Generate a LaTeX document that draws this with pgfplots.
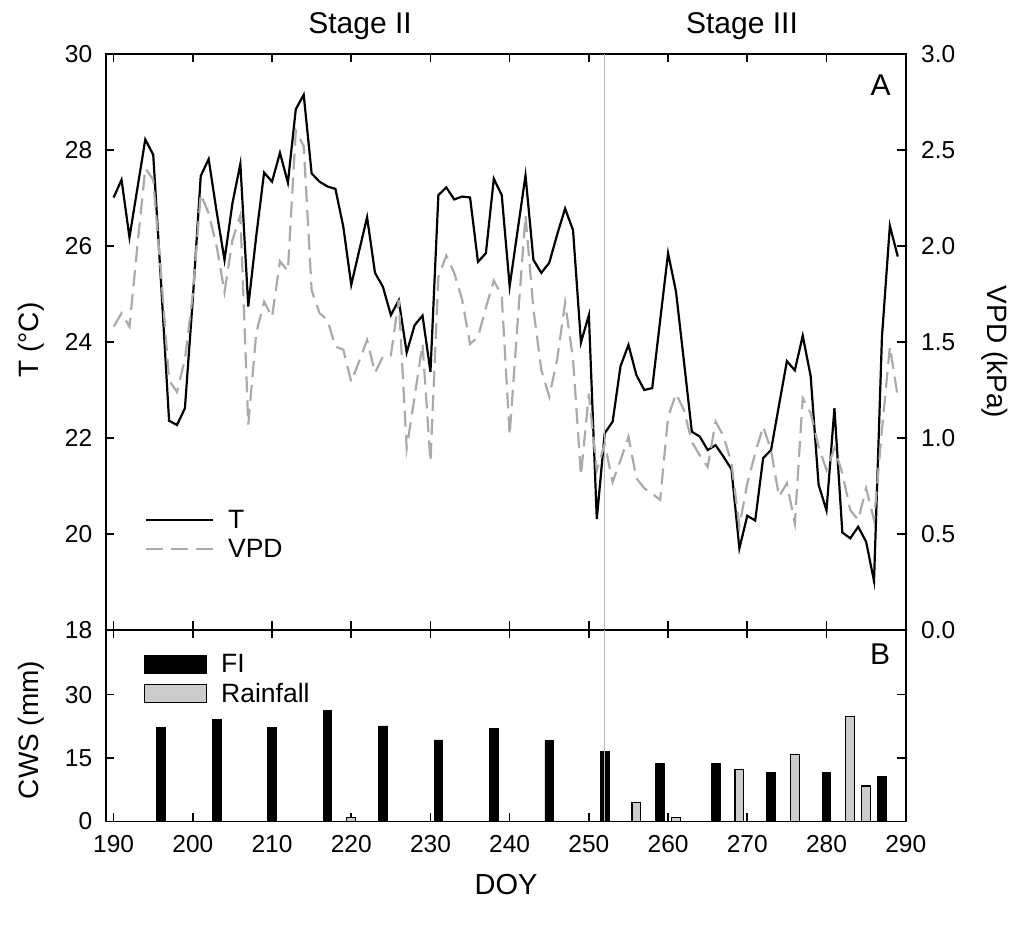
\documentclass[border=0pt]{standalone}
\usepackage{fontspec}
\setmainfont{Liberation Sans}
\usepackage{pgfplots}
\pgfplotsset{compat=1.18}
\usepackage{pgfplotstable}

\pgfplotstableread{
doy T
190 27.01
191 27.38
192 26.18
193 27.20
194 28.22
195 27.90
196 25.20
197 22.36
198 22.27
199 22.62
200 24.90
201 27.46
202 27.81
203 26.72
204 25.71
205 26.89
206 27.71
207 24.74
208 26.20
209 27.53
210 27.34
211 27.94
212 27.32
213 28.85
214 29.15
215 27.51
216 27.34
217 27.24
218 27.19
219 26.40
220 25.19
221 25.90
222 26.60
223 25.44
224 25.15
225 24.56
226 24.87
227 23.78
228 24.35
229 24.55
230 23.38
231 27.06
232 27.22
233 26.97
234 27.03
235 27.01
236 25.67
237 25.85
238 27.40
239 27.06
240 25.16
241 26.32
242 27.47
243 25.71
244 25.44
245 25.65
246 26.24
247 26.78
248 26.33
249 23.99
250 24.56
251 20.31
252 22.10
253 22.34
254 23.50
255 23.94
256 23.31
257 23.00
258 23.04
259 24.45
260 25.85
261 25.05
262 23.60
263 22.13
264 22.03
265 21.75
266 21.85
267 21.61
268 21.35
269 19.70
270 20.38
271 20.28
272 21.58
273 21.75
274 22.68
275 23.60
276 23.41
277 24.13
278 23.29
279 21.03
280 20.49
281 22.62
282 20.03
283 19.91
284 20.15
285 19.84
286 19.02
287 24.10
288 26.42
289 25.78
}\Tdata

\pgfplotstableread{
doy vpd
190 1.58
191 1.65
192 1.58
193 2.00
194 2.405
195 2.345
196 1.85
197 1.30
198 1.24
199 1.41
200 1.75
201 2.27
202 2.17
203 2.00
204 1.76
205 2.03
206 2.16
207 1.07
208 1.545
209 1.71
210 1.63
211 1.92
212 1.87
213 2.60
214 2.52
215 1.77
216 1.65
217 1.615
218 1.476
219 1.46
220 1.293
221 1.40
222 1.51
223 1.34
224 1.424
225 1.43
226 1.72
227 0.946
228 1.215
229 1.49
230 0.877
231 1.84
232 1.95
233 1.86
234 1.72
235 1.49
236 1.525
237 1.68
238 1.82
239 1.74
240 1.015
241 1.60
242 2.16
243 1.67
244 1.354
245 1.215
246 1.41
247 1.705
248 1.41
249 0.807
250 1.23
251 0.83
252 0.97
253 0.77
254 0.885
255 1.007
256 0.79
257 0.738
258 0.71
259 0.677
260 1.11
261 1.23
262 1.146
263 0.98
264 0.91
265 0.85
266 1.085
267 1.01
268 0.87
269 0.54
270 0.764
271 0.92
272 1.06
273 0.937
274 0.695
275 0.764
276 0.556
277 1.207
278 1.13
279 0.955
280 0.834
281 0.946
282 0.816
283 0.625
284 0.573
285 0.738
286 0.573
287 1.04
288 1.476
289 1.215
}\VPDdata

\pgfplotstableread{
doy fi
196 22.3
203 24.2
210 22.3
217 26.2
224 22.6
231 19.3
238 22.0
245 19.1
252 16.5
259 13.8
266 13.8
273 11.5
280 11.7
287 10.6
}\FIdata

\pgfplotstableread{
doy rain
220 1.0
256 4.6
261 1.0
269 12.3
276 15.8
283 24.9
285 8.4
}\Raindata

\definecolor{vpdgray}{HTML}{AAAAAA}
\definecolor{raingray}{HTML}{CCCCCC}
\definecolor{linegray}{HTML}{B8B8B8}

\pgfplotsset{
  base/.style={
    scale only axis, width=800pt,
    xmin=189, xmax=290, xtick={190,200,...,290},
    tick align=inside, major tick length=8.5pt,
    axis line style={line width=1.6pt},
    every tick/.style={black, line width=1.6pt},
    tick label style={font=\fontsize{24.5}{28}\selectfont},
    /pgf/number format/assume math mode=true,
    clip=true,
  }
}

\begin{document}
\begin{tikzpicture}
\useasboundingbox (0pt,0pt) rectangle (1015pt,926pt);

% ---------- Panel A: T (left axis) ----------
\begin{axis}[base, at={(105.7pt,296pt)}, anchor=south west, height=576pt,
  ymin=18, ymax=30, ytick={18,20,...,30}, ytick pos=left,
  xticklabels={},
  yticklabel style={xshift=-10pt},
  legend style={at={(rel axis cs:0.045,0.215)}, anchor=north west, draw=none, fill=none,
    font=\fontsize{26.5}{30}\selectfont, row sep=5pt},
  legend cell align=left,
  legend image code/.code={\draw[#1] (0pt,0pt) -- (67pt,0pt);},
]
\addplot[black, line width=2.2pt] table[x=doy, y=T]{\Tdata};
\addlegendentry{\hspace{12pt}T}
\addlegendimage{vpdgray, line width=2.2pt, dash pattern=on 17pt off 8pt}
\addlegendentry{\hspace{12pt}VPD}
\addplot[linegray, line width=1.4pt, forget plot] coordinates {(252,18) (252,30)};
\end{axis}

% ---------- Panel A: VPD (right axis) ----------
\begin{axis}[base, at={(105.7pt,296pt)}, anchor=south west, height=576pt,
  hide x axis, axis y line*=right, tick align=inside,
  ymin=0, ymax=3, ytick={0,0.5,...,3.0},
  yticklabel style={xshift=12pt, /pgf/number format/.cd, fixed, fixed zerofill, precision=1},
]
\addplot[vpdgray, line width=2.2pt, dash pattern=on 16pt off 8pt] table[x=doy, y=vpd]{\VPDdata};
\end{axis}

% ---------- Panel B: CWS ----------
\begin{axis}[base, at={(105.7pt,104.5pt)}, anchor=south west, height=191.5pt,
  ymin=0, ymax=45.3, ytick={0,15,30},
  yticklabel style={xshift=-10pt},
  xticklabel style={yshift=-10pt},
  legend style={at={(rel axis cs:0.044,0.895)}, anchor=north west, draw=none, fill=none,
    font=\fontsize{26.5}{30}\selectfont, row sep=5pt},
  legend cell align=left,
  legend image code/.code={\draw[#1] (0pt,-9pt) rectangle (62pt,9pt);},
]
\addplot[ybar, bar width=1.1, fill=black, draw=black, line width=0.8pt]
  table[x=doy, y=fi]{\FIdata};
\addlegendentry{\hspace{12pt}FI}
\addplot[ybar, bar width=1.1, fill=raingray, draw=black, line width=1.1pt]
  table[x=doy, y=rain]{\Raindata};
\addlegendentry{\hspace{12pt}Rainfall}
\addplot[linegray, line width=1.4pt, forget plot] coordinates {(252,0) (252,45.3)};
\end{axis}

% ---------- Texts ----------
\node[font=\fontsize{30}{34}\selectfont, anchor=base] at (360pt,892.7pt) {Stage II};
\node[font=\fontsize{30}{34}\selectfont, anchor=base] at (742pt,892.7pt) {Stage III};
\node[font=\fontsize{30}{34}\selectfont] at (880.5pt,841pt) {A};
\node[font=\fontsize{30}{34}\selectfont] at (880pt,272pt) {B};
\node[font=\fontsize{28}{32}\selectfont, rotate=90] at (31pt,586pt) {T (°C)};
\node[font=\fontsize{28}{32}\selectfont, rotate=-90] at (995pt,574pt) {VPD (kPa)};
\node[font=\fontsize{28}{32}\selectfont, rotate=90] at (31pt,196pt) {CWS (mm)};
\node[font=\fontsize{29}{33}\selectfont, anchor=base] at (506pt,31pt) {DOY};
\end{tikzpicture}
\end{document}
